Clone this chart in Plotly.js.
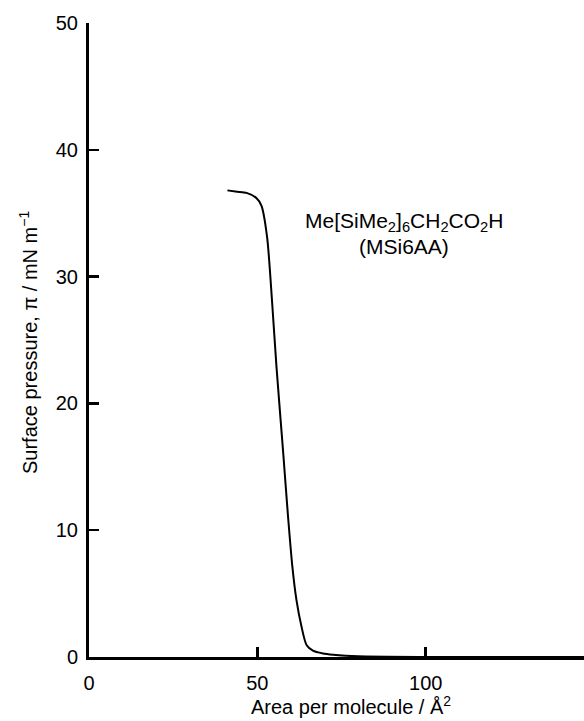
<!DOCTYPE html>
<html><head><meta charset="utf-8">
<script src="https://cdn.plot.ly/plotly-3.0.1.min.js"></script>
<style>html,body{margin:0;padding:0;background:#fff;}#chart{width:584px;height:721px;}</style>
</head><body><div id="chart"></div>
<script>
// Area per molecule (Å^2) and surface pressure (mN/m) read from the isotherm
const area =     [41.1, 44.0, 46.8, 49.7, 51.2, 52.9, 54.4, 55.7, 57.7, 59.1, 60.4, 61.6, 63.1, 64.6, 66.5, 69.5, 72.5, 80, 100, 120, 147];
const pressure = [36.8, 36.7, 36.6, 36.2, 35.6, 33.1, 27.9, 22.8, 16.0, 11.1, 7.1, 4.5, 2.4, 0.95, 0.5, 0.28, 0.18, 0.05, 0, 0, 0];
const xTicks = [0, 50, 100];
const yTicks = [0, 10, 20, 30, 40, 50];
const labelLine1 = 'Me[SiMe<sub>2</sub>]<sub>6</sub>CH<sub>2</sub>CO<sub>2</sub>H';
const labelLine2 = '(MSi6AA)';
const xTitle = 'Area per molecule / Å<sup>2</sup>';
const yTitle = 'Surface pressure, π / mN m<sup>−1</sup>';

const font = {family: 'Liberation Sans, Arial, sans-serif', size: 20, color: '#000'};
const labelFont = {family: 'Liberation Sans, Arial, sans-serif', size: 21, color: '#000'};
const W = 584 - 89, H = 721 - 23 - 64;

Plotly.newPlot('chart', [{
  x: area, y: pressure, type: 'scatter', mode: 'lines',
  line: {color: '#000', width: 2, shape: 'spline', smoothing: 0.7},
  hoverinfo: 'none'
}], {
  width: 584, height: 721,
  margin: {l: 89, r: 0, t: 23, b: 64, pad: 0},
  paper_bgcolor: '#fff', plot_bgcolor: '#fff',
  font: font,
  showlegend: false,
  xaxis: {
    range: [0, 147], tickvals: xTicks, ticktext: xTicks.map(String),
    ticks: 'inside', ticklen: 10, tickwidth: 2.5, tickcolor: '#000',
    showline: true, linecolor: '#000', linewidth: 3,
    showgrid: false, zeroline: false, tickfont: font, ticklabelstandoff: 6
  },
  yaxis: {
    range: [0, 50], tickvals: yTicks, ticktext: yTicks.map(String),
    ticks: 'inside', ticklen: 10, tickwidth: 2.5, tickcolor: '#000',
    showline: true, linecolor: '#000', linewidth: 3,
    showgrid: false, zeroline: false, tickfont: font, ticklabelstandoff: 4
  },
  annotations: [
    {x: 93.5, y: 34.3, xref: 'x', yref: 'y', text: labelLine1, showarrow: false, font: labelFont, xanchor: 'center', yanchor: 'middle'},
    {x: 93.5, y: 32.4, xref: 'x', yref: 'y', text: labelLine2, showarrow: false, font: labelFont, xanchor: 'center', yanchor: 'middle'},
    {x: (351 - 89) / W, y: (657 - 705) / H, xref: 'paper', yref: 'paper', text: xTitle, showarrow: false, font: font, xanchor: 'center', yanchor: 'middle'},
    {x: (28 - 89) / W, y: (657 - 343) / H, xref: 'paper', yref: 'paper', text: yTitle, showarrow: false, font: font, textangle: -90, xanchor: 'center', yanchor: 'middle'}
  ]
}, {staticPlot: true, displayModeBar: false});
</script></body></html>
